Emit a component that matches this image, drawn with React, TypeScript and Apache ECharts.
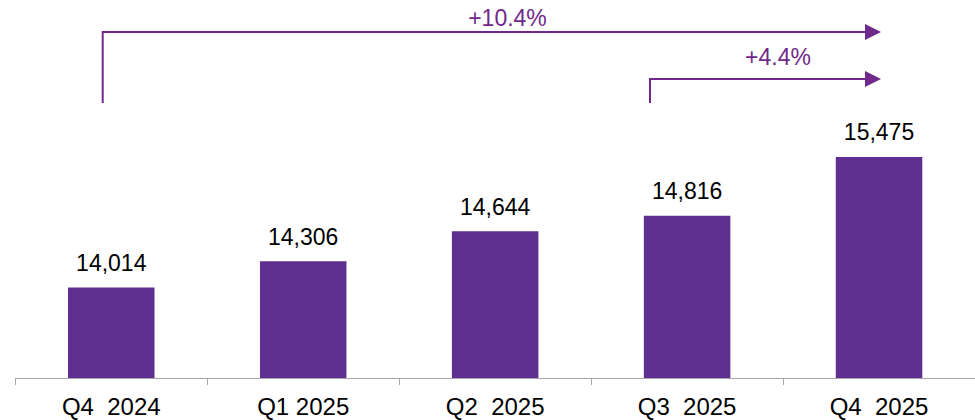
import React, { useEffect, useRef } from "react";
import * as echarts from "echarts";

const categories = ["Q4  2024", "Q1 2025", "Q2  2025", "Q3  2025", "Q4  2025"];
const values = [14014, 14306, 14644, 14816, 15475];
const growthLabels = ["+10.4%", "+4.4%"];

const BAR = "#5f2e91";
const ARROW = "#70298a";
const FONT = "'Liberation Sans', Arial, sans-serif";

export default function App() {
  const ref = useRef<HTMLDivElement>(null);
  useEffect(() => {
    if (!ref.current) return;
    const chart = echarts.init(ref.current, undefined, { renderer: "svg" });
    chart.setOption({
      animation: false,
      textStyle: { fontFamily: FONT },
      grid: { left: 15.3, width: 964, top: 110, bottom: 42 },
      xAxis: {
        type: "category",
        data: categories,
        axisLine: { lineStyle: { color: "#a6a6a6", width: 1 } },
        axisTick: { show: true, length: 7, lineStyle: { color: "#a6a6a6" } },
        axisLabel: { color: "#000", fontSize: 24, margin: 16, fontFamily: FONT },
      },
      yAxis: {
        type: "value",
        min: 13000,
        max: 16000,
        show: false,
        splitLine: { show: false },
      },
      series: [
        {
          type: "bar",
          data: values,
          barWidth: 86.5,
          itemStyle: { color: BAR },
          label: {
            show: true,
            position: "top",
            distance: 13,
            color: "#000",
            fontSize: 23,
            fontFamily: FONT,
            formatter: (p: any) => Number(p.value).toLocaleString("en-US"),
          },
        },
      ],
      graphic: [
        {
          type: "polyline",
          shape: { points: [[102.7, 103], [102.7, 32], [866, 32]] },
          style: { stroke: ARROW, lineWidth: 2, fill: "none" },
        },
        {
          type: "polygon",
          shape: { points: [[865, 24], [881, 32], [865, 40]] },
          style: { fill: ARROW },
        },
        {
          type: "text",
          x: 507.5,
          y: 18,
          style: {
            text: growthLabels[0],
            fill: ARROW,
            font: `23px ${FONT}`,
            textAlign: "center",
            textVerticalAlign: "middle",
          },
        },
        {
          type: "polyline",
          shape: { points: [[650, 103], [650, 79], [866, 79]] },
          style: { stroke: ARROW, lineWidth: 2, fill: "none" },
        },
        {
          type: "polygon",
          shape: { points: [[865, 71], [881, 79], [865, 87]] },
          style: { fill: ARROW },
        },
        {
          type: "text",
          x: 778,
          y: 57,
          style: {
            text: growthLabels[1],
            fill: ARROW,
            font: `23px ${FONT}`,
            textAlign: "center",
            textVerticalAlign: "middle",
          },
        },
      ],
    });
    return () => chart.dispose();
  }, []);
  return (
    <div
      ref={ref}
      style={{ position: "absolute", left: 0, top: 0, width: 975, height: 420 }}
    />
  );
}
